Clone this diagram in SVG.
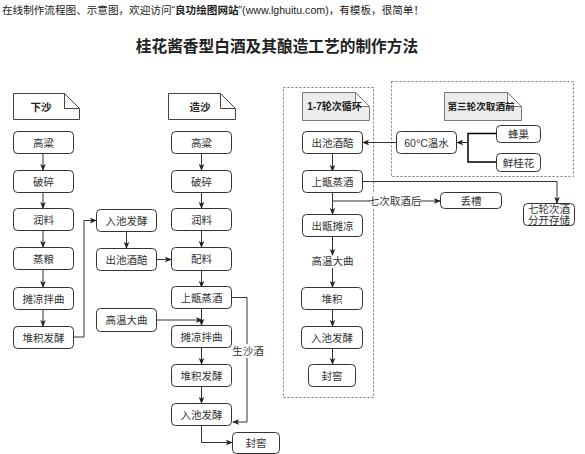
<svg xmlns="http://www.w3.org/2000/svg" width="585" height="454" viewBox="0 0 585 454">
<defs>
<marker id="arr" viewBox="0 0 8 8" refX="7" refY="4" markerWidth="7" markerHeight="7" markerUnits="userSpaceOnUse" orient="auto">
<path d="M0,0.8 L8,4 L0,7.2 L2,4 Z" fill="#222"/>
</marker>
<style>
text{font-family:"Liberation Sans","Noto Sans CJK SC",sans-serif;fill:#222;}
.n rect{fill:#fff;stroke:#333;stroke-width:1;}
.n text{font-size:10.5px;text-anchor:middle;dominant-baseline:central;fill:#333;}
.note path{fill:#fff;stroke:#444;stroke-width:1;}
.note.g path{fill:#ececec;stroke:#777;}
.note text{font-size:10.5px;font-weight:bold;text-anchor:middle;dominant-baseline:central;}
.c path{fill:none;stroke:#333;stroke-width:1;}
.c .a{marker-end:url(#arr);}
.c .k{stroke:#000;stroke-width:1.5;}
.cont{fill:none;stroke:#777;stroke-width:1;stroke-dasharray:2 2;}
.lbl{font-size:10.5px;text-anchor:middle;dominant-baseline:central;fill:#333;}
</style>
</defs>
<rect width="585" height="454" fill="#fff"/>
<text x="2" y="13.5" style="font-size:10.6px">在线制作流程图、示意图，欢迎访问“<tspan font-weight="bold">良功绘图网站</tspan>”(www.lghuitu.com)，有模板，很简单！</text>
<text x="277" y="52" style="font-size:15.7px;font-weight:bold;text-anchor:middle">桂花酱香型白酒及其酿造工艺的制作方法</text>

<rect class="cont" x="283.5" y="87.5" width="90" height="310"/>
<rect class="cont" x="391.5" y="81.5" width="182" height="95"/>

<g class="c">
<path class="a" d="M43,153 V170"/>
<path class="a" d="M43,192 V208"/>
<path class="a" d="M43,230 V247"/>
<path class="a" d="M43,269 V287"/>
<path class="a" d="M43,309 V326"/>
<path class="a" d="M73,337 H84 V220.5 H96"/>
<path class="a" d="M126.5,232 V248"/>
<path class="a" d="M157,259.5 H171"/>
<path class="a" d="M201.5,153 V170"/>
<path class="a" d="M201.5,192 V208"/>
<path class="a" d="M201.5,230 V247"/>
<path class="a" d="M201.5,270 V287"/>
<path class="a" d="M201.5,308 V325"/>
<path class="a" d="M157,320 H202"/>
<path class="a" d="M201.5,347 V364"/>
<path class="a" d="M201.5,387 V403"/>
<path class="a" d="M232,297.5 H247 V422 H233"/>
<path class="a" d="M201.5,425 V442.5 H232"/>
<path class="a" d="M332.5,153 V171"/>
<path class="a" d="M332.5,192 V214"/>
<path class="a" d="M332.5,237 V255"/>
<path class="a" d="M332.5,268 V287"/>
<path class="a" d="M332.5,309 V326"/>
<path class="a" d="M332.5,348 V364"/>
<path class="a" d="M396,142.5 H363"/>
<path class="k" d="M496,133.5 H468 V162 H496"/>
<path class="a" d="M468,142.5 H457"/>
<path class="a" d="M363,181.5 H557 V203"/>
<path class="a" d="M333,201 H440"/>
</g>
<rect x="219" y="344" width="29" height="14" fill="#fff"/>
<text class="lbl" x="248" y="351">生沙酒</text>
<rect x="370" y="194" width="50" height="14" fill="#fff"/>
<text class="lbl" x="395" y="201">七次取酒后</text>

<g id="note-xiasha" class="note"><path d="M13.5,93.5 H64.5 L79.5,108.5 V119.5 H13.5 Z M64.5,93.5 V108.5 H79.5"/><text x="41" y="106.5">下沙</text></g>
<g id="l1" class="n"><rect x="13.5" y="131.5" width="60" height="22" rx="4"/><text x="43.5" y="142.5">高粱</text></g>
<g id="l2" class="n"><rect x="13.5" y="170.5" width="60" height="22" rx="4"/><text x="43.5" y="181.5">破碎</text></g>
<g id="l3" class="n"><rect x="13.5" y="208.5" width="60" height="22" rx="4"/><text x="43.5" y="219.5">润料</text></g>
<g id="l4" class="n"><rect x="13.5" y="247.5" width="60" height="22" rx="4"/><text x="43.5" y="258.5">蒸粮</text></g>
<g id="l5" class="n"><rect x="13.5" y="287.5" width="60" height="22" rx="4"/><text x="43.5" y="298.5">摊凉拌曲</text></g>
<g id="l6" class="n"><rect x="13.5" y="326.5" width="60" height="22" rx="4"/><text x="43.5" y="337.5">堆积发酵</text></g>

<g id="m1" class="n"><rect x="96.5" y="209.5" width="60" height="22" rx="4"/><text x="126.5" y="220.5">入池发酵</text></g>
<g id="m2" class="n"><rect x="96.5" y="248.5" width="60" height="22" rx="4"/><text x="126.5" y="259.5">出池酒醅</text></g>
<g id="m3" class="n"><rect x="96.5" y="308.5" width="60" height="23" rx="4"/><text x="126.5" y="320">高温大曲</text></g>

<g id="note-zaosha" class="note"><path d="M168.5,93.5 H220.5 L235.5,108.5 V119.5 H168.5 Z M220.5,93.5 V108.5 H235.5"/><text x="200" y="106.5">造沙</text></g>
<g id="z1" class="n"><rect x="171.5" y="131.5" width="60" height="22" rx="4"/><text x="201.5" y="142.5">高粱</text></g>
<g id="z2" class="n"><rect x="171.5" y="170.5" width="60" height="22" rx="4"/><text x="201.5" y="181.5">破碎</text></g>
<g id="z3" class="n"><rect x="171.5" y="208.5" width="60" height="22" rx="4"/><text x="201.5" y="219.5">润料</text></g>
<g id="z4" class="n"><rect x="171.5" y="247.5" width="60" height="23" rx="4"/><text x="201.5" y="259">配料</text></g>
<g id="z5" class="n"><rect x="171.5" y="286.5" width="60" height="22" rx="4"/><text x="201.5" y="297.5">上甑蒸酒</text></g>
<g id="z6" class="n"><rect x="171.5" y="325.5" width="60" height="22" rx="4"/><text x="201.5" y="336.5">摊凉拌曲</text></g>
<g id="z7" class="n"><rect x="171.5" y="364.5" width="60" height="22" rx="4"/><text x="201.5" y="375.5">堆积发酵</text></g>
<g id="z8" class="n"><rect x="171.5" y="403.5" width="60" height="22" rx="4"/><text x="201.5" y="414.5">入池发酵</text></g>
<g id="z9" class="n"><rect x="232.5" y="432.5" width="47" height="21" rx="4"/><text x="256" y="443">封窖</text></g>

<g id="note-cycle" class="note g"><path d="M302.5,92.5 H355.5 L369.5,106.5 V120.5 H302.5 Z M355.5,92.5 V106.5 H369.5"/><text x="334.5" y="106.5" style="font-size:10px">1-7轮次循环</text></g>
<g id="r1" class="n"><rect x="302.5" y="131.5" width="60" height="22" rx="4"/><text x="332.5" y="142.5">出池酒醅</text></g>
<g id="r2" class="n"><rect x="302.5" y="170.5" width="60" height="22" rx="4"/><text x="332.5" y="181.5">上甑蒸酒</text></g>
<g id="r3" class="n"><rect x="302.5" y="214.5" width="60" height="22" rx="4"/><text x="332.5" y="225.5">出甑摊凉</text></g>
<g id="r4"><text class="lbl" x="332.5" y="261">高温大曲</text></g>
<g id="r5" class="n"><rect x="301.5" y="287.5" width="61" height="22" rx="4"/><text x="332" y="298.5">堆积</text></g>
<g id="r6" class="n"><rect x="301.5" y="326.5" width="61" height="22" rx="4"/><text x="332" y="337.5">入池发酵</text></g>
<g id="r7" class="n"><rect x="308.5" y="364.5" width="47" height="22" rx="4"/><text x="332" y="375.5">封窖</text></g>

<g id="note-third" class="note g"><path d="M444.5,92.5 H507.5 L521.5,106.5 V120.5 H444.5 Z M507.5,92.5 V106.5 H521.5"/><text x="481" y="106.5" style="font-size:9.6px">第三轮次取酒前</text></g>
<g id="w1" class="n"><rect x="396.5" y="131.5" width="60" height="22" rx="4"/><text x="426.5" y="142.5">60°C温水</text></g>
<g id="w2" class="n"><rect x="496.5" y="125.5" width="44" height="17" rx="4"/><text x="518.5" y="134">蜂巢</text></g>
<g id="w3" class="n"><rect x="496.5" y="153.5" width="44" height="18" rx="4"/><text x="518.5" y="162.5">鲜桂花</text></g>
<g id="d1" class="n"><rect x="440.5" y="192.5" width="61" height="16" rx="4"/><text x="471" y="200.5">丢槽</text></g>
<g id="d2" class="n"><rect x="523.5" y="203.5" width="51" height="22" rx="4"/><text x="549" y="209">七轮次酒</text><text x="549" y="220">分开存储</text></g>
</svg>
